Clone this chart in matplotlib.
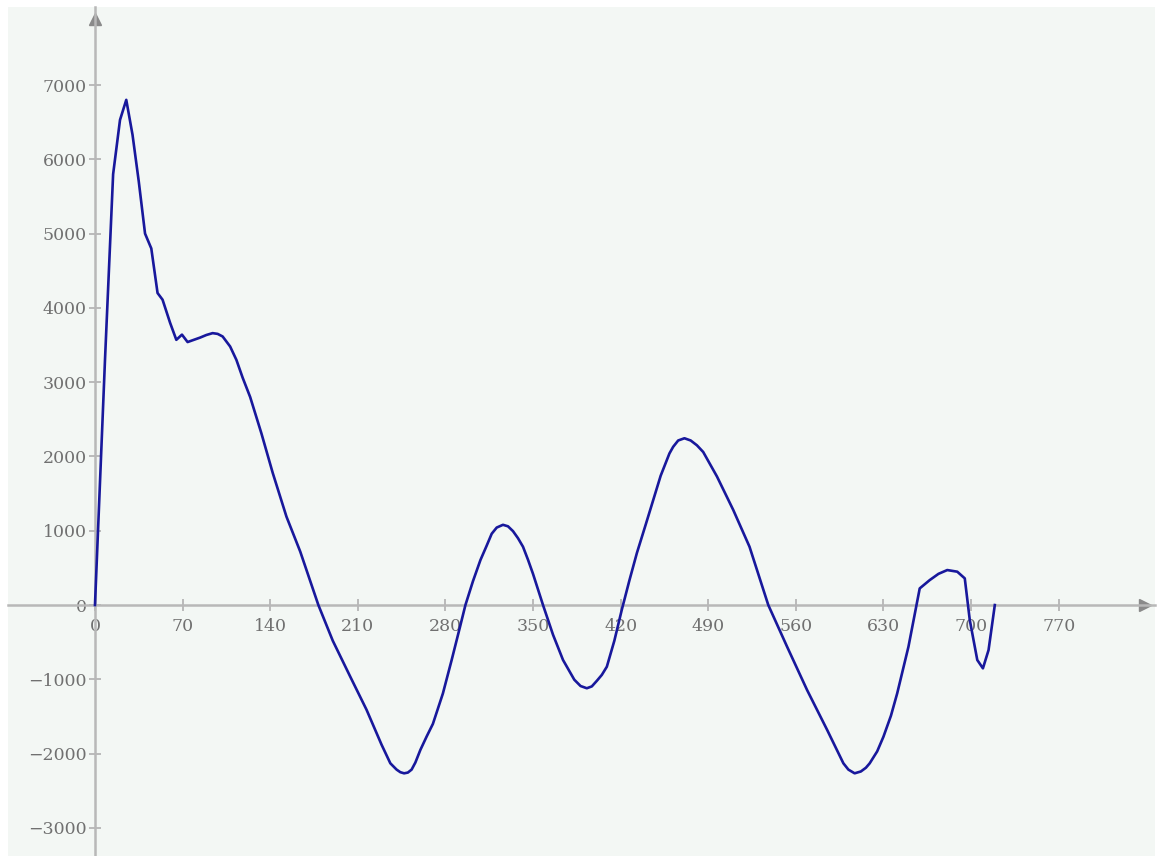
import numpy as np
import matplotlib.pyplot as plt

# values
x = [0, 8, 14.5, 20, 25, 30, 35, 40, 45, 50, 54, 60, 65, 69.5, 74, 84, 89, 94, 98,
     102, 108, 113, 118, 124, 133, 142, 153, 164, 178.5, 190, 204, 217, 229, 236,
     241, 244, 247, 250, 253, 256, 260, 265, 270, 278, 285, 291.7, 296, 302, 308,
     313, 317, 321, 326, 330, 334, 338, 342, 346, 350, 358, 366, 374, 383, 388,
     393, 397, 401, 405, 409, 415, 421, 427, 433, 440, 446, 452, 459, 462, 466,
     471, 476, 481, 486, 497, 510, 523, 538, 553, 569, 585, 598, 602, 607, 612,
     616, 619, 625, 630, 636, 641, 650, 659, 667, 674, 681, 689, 695, 699, 705,
     709.5, 714, 719]
y = [0, 3300, 5800, 6530, 6800, 6330, 5700, 5000, 4800, 4200, 4110, 3800, 3570,
     3640, 3540, 3600, 3635, 3660, 3650, 3615, 3480, 3300, 3060, 2800, 2310, 1780,
     1190, 720, 0, -480, -965, -1410, -1880, -2130, -2215, -2250, -2265, -2255,
     -2215, -2120, -1950, -1770, -1600, -1190, -740, -292, 0, 320, 606, 800, 960,
     1043, 1080, 1060, 995, 900, 785, 610, 420, 0, -400, -740, -1005, -1090, -1120,
     -1095, -1020, -940, -830, -480, -60, 330, 700, 1080, 1410, 1740, 2040, 2130,
     2215, 2245, 2215, 2150, 2060, 1730, 1280, 785, 0, -560, -1144, -1680, -2130,
     -2215, -2265, -2240, -2190, -2131, -1970, -1773, -1490, -1189, -561, 224, 336,
     420, 471, 449, 359, -202, -740, -852, -606, 0]
xticks = [0, 70, 140, 210, 280, 350, 420, 490, 560, 630, 700, 770]
yticks = [-3000, -2000, -1000, 0, 1000, 2000, 3000, 4000, 5000, 6000, 7000]

fig = plt.figure(figsize=(11.57, 8.56), dpi=100)
ax = fig.add_axes([8/1157, 0, 1147/1157, 849/856])
ax.set_facecolor('#f3f7f4')

ax.plot(x, y, color='#18189c', lw=1.9, zorder=3, solid_joinstyle='round')

ax.set_xlim(-69.5, 847)
ax.set_ylim(-3378, 8050)

for s in ['top', 'right']:
    ax.spines[s].set_visible(False)
for s in ['left', 'bottom']:
    ax.spines[s].set_position(('data', 0))
    ax.spines[s].set_color('#b8b8b8')
    ax.spines[s].set_linewidth(1.8)

ax.set_xticks(xticks)
ax.set_yticks(yticks)
ax.tick_params(colors='#b0b0b0', direction='inout', length=8, width=1.2,
               labelcolor='#707070', labelsize=12.5)
ax.tick_params(axis='x', pad=5)
ax.tick_params(axis='y', pad=2)
for lab in ax.get_xticklabels() + ax.get_yticklabels():
    lab.set_family('DejaVu Serif')

# arrow heads at the axis ends
ax.plot(0.991, 0, '>', color='#8a8a8a', ms=9, transform=ax.get_yaxis_transform(),
        clip_on=False)
ax.plot(0, 0.986, '^', color='#8a8a8a', ms=9, transform=ax.get_xaxis_transform(),
        clip_on=False)

plt.savefig('out.png', dpi=100)
